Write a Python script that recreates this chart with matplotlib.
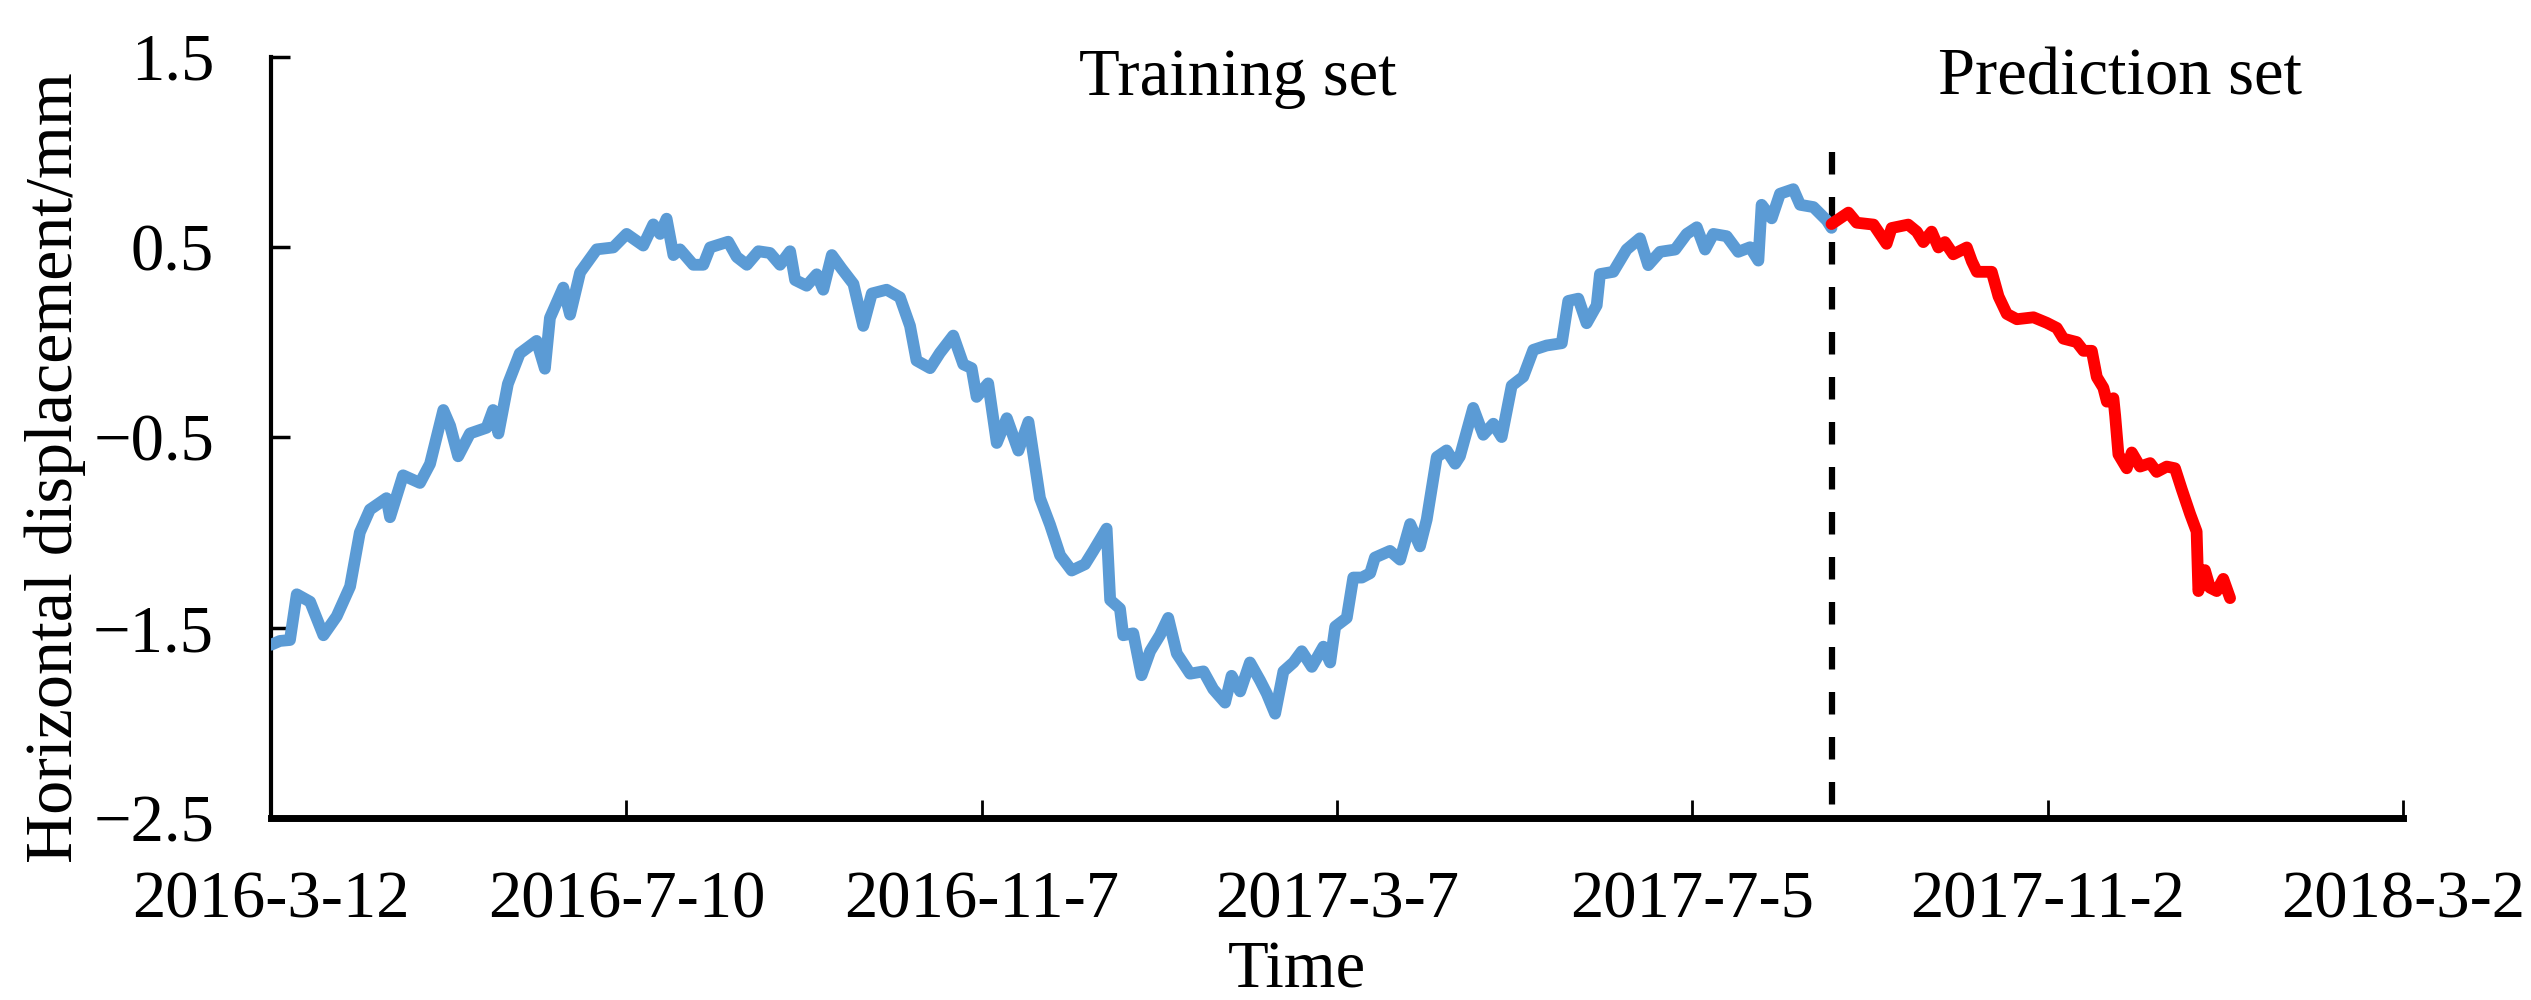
import matplotlib
matplotlib.use("Agg")
import matplotlib.pyplot as plt

plt.rcParams['font.family'] = ['Liberation Serif', 'DejaVu Serif']

# ---------------- data ----------------
# x = days since 2016-3-12
train_days = [0, 3, 6.4, 8.7, 13.2, 17.7, 22.2, 26.7, 30, 33.4, 39, 40.2, 44.6, 50.3, 53.7,
              58.2, 60.5, 63.2, 67.2, 72.8, 75, 76.8, 80, 84, 89.7, 92.5, 94.2, 98.7, 101,
              104.4, 110, 115.6, 120.1, 125.7, 129.1, 131.4, 133.6, 135.9, 138.1, 142.6, 146,
              148.3, 154.4, 157.3, 160.7, 164.6, 168.5, 171.9, 175.3, 177, 180.9, 184.3, 186.5,
              189.4, 192.7, 196.7, 200, 202.9, 207.9, 212.4, 215.8, 218, 222.6, 225.9, 230.4,
              233.8, 236.6, 238.3, 242.2, 245.1, 248.5, 252.4, 255.8, 259.7, 263.1, 266.5,
              270.4, 274.9, 277.7, 282.2, 283.4, 286.7, 287.8, 291.2, 294, 296.9, 300.2, 303,
              305.9, 310.4, 314.9, 318.2, 322.2, 324.4, 327.3, 330.6, 334, 336.3, 339.1, 341.9,
              345.3, 348.1, 351.5, 355.4, 357.7, 359.4, 363.3, 365.5, 368.4, 371.2, 372.8,
              377.9, 381.3, 384.7, 388, 390.3, 393.7, 397, 399.9, 401.5, 406, 409.4, 412.8,
              415.6, 419, 422.9, 426.3, 430.8, 435.9, 438.1, 441.5, 444.3, 447.7, 448.8, 453.3,
              457.8, 462.3, 465.1, 469.1, 474.2, 478.1, 481.5, 484.3, 487.1, 491.6, 495.5,
              499.5, 502.3, 503.4, 506.8, 509.6, 514.1, 516.4, 520.9, 525.4, 527]
train_vals = [-1.59, -1.57, -1.565, -1.325, -1.364, -1.54, -1.44, -1.284, -1.00, -0.88, -0.82,
              -0.92, -0.70, -0.74, -0.64, -0.357, -0.44, -0.60, -0.48, -0.45, -0.357, -0.48,
              -0.22, -0.06, 0.006, -0.14, 0.127, 0.286, 0.144, 0.366, 0.487, 0.497, 0.568,
              0.507, 0.618, 0.568, 0.648, 0.457, 0.487, 0.406, 0.406, 0.497, 0.527, 0.447,
              0.406, 0.477, 0.468, 0.406, 0.477, 0.326, 0.296, 0.356, 0.275, 0.457, 0.386,
              0.305, 0.085, 0.255, 0.275, 0.235, 0.085, -0.097, -0.137, -0.057, 0.034, -0.117,
              -0.137, -0.288, -0.217, -0.53, -0.40, -0.57, -0.419, -0.82, -0.96, -1.12, -1.20,
              -1.167, -1.097, -0.98, -1.355, -1.40, -1.54, -1.53, -1.75, -1.624, -1.54, -1.449,
              -1.636, -1.742, -1.73, -1.823, -1.894, -1.753, -1.835, -1.683, -1.777, -1.847,
              -1.952, -1.73, -1.683, -1.624, -1.706, -1.60, -1.683, -1.495, -1.449, -1.237,
              -1.237, -1.214, -1.132, -1.097, -1.143, -0.956, -1.073, -0.932, -0.604, -0.569,
              -0.639, -0.60, -0.346, -0.487, -0.429, -0.499, -0.229, -0.182, -0.041, -0.018,
              -0.006, 0.216, 0.228, 0.099, 0.193, 0.357, 0.369, 0.486, 0.545, 0.404, 0.474,
              0.486, 0.568, 0.603, 0.486, 0.568, 0.556, 0.474, 0.498, 0.428, 0.721, 0.650,
              0.779, 0.803, 0.721, 0.709, 0.639, 0.60]

pred_days = [527, 532.7, 535.5, 541.2, 545.6, 547.3, 552.9, 555.8, 558, 560.8, 563.1, 565.3,
             568.1, 572.7, 574.4, 576.1, 581.1, 583.4, 586.2, 589.6, 595.2, 599.7, 603.1,
             605.3, 609.8, 612.1, 614.9, 616.6, 618.8, 620, 622.2, 622.8, 623.9, 626.7, 628.4,
             631.2, 634.6, 636.8, 640.2, 643, 645.3, 648.1, 650.3, 650.9, 653.1, 654.8, 657.1,
             659.3, 661.6]
pred_vals = [0.62, 0.68, 0.627, 0.617, 0.516, 0.599, 0.617, 0.58, 0.525, 0.58, 0.497, 0.525,
             0.461, 0.497, 0.424, 0.369, 0.369, 0.24, 0.148, 0.12, 0.13, 0.101, 0.074, 0.018,
             0.0, -0.046, -0.046, -0.184, -0.24, -0.313, -0.295, -0.387, -0.59, -0.663, -0.58,
             -0.654, -0.636, -0.682, -0.654, -0.663, -0.774, -0.903, -0.995, -1.308, -1.198,
             -1.29, -1.308, -1.244, -1.345]

split_day = 527
x_tick_days = [0, 120, 240, 360, 480, 600, 720]
x_tick_labels = ['2016-3-12', '2016-7-10', '2016-11-7', '2017-3-7', '2017-7-5', '2017-11-2', '2018-3-2']
y_ticks = [-2.5, -1.5, -0.5, 0.5, 1.5]
y_tick_labels = ['\u22122.5', '\u22121.5', '\u22120.5', '0.5', '1.5']

# ---------------- figure ----------------
W, H = 2531, 1000
fig = plt.figure(figsize=(W / 100, H / 100), dpi=100)
ax = fig.add_axes([271 / W, 1 - 818 / H, (2403 - 271) / W, (818 - 56.5) / H])

FS = 48
ax.plot(train_days, train_vals, color='#5B9BD5', lw=8.5, solid_joinstyle='round',
        solid_capstyle='round', zorder=3)
ax.plot(pred_days, pred_vals, color='#FF0000', lw=8.5, solid_joinstyle='round',
        solid_capstyle='round', zorder=4)
ax.plot([split_day, split_day], [1.0, -2.5], color='black', lw=4.5,
        linestyle=(0, (3.6, 3.6)), zorder=2)

ax.set_xlim(0, 720)
ax.set_ylim(-2.5, 1.5)
ax.set_xticks(x_tick_days)
ax.set_xticklabels(x_tick_labels, fontsize=FS)
ax.set_yticks(y_ticks)
ax.set_yticklabels(y_tick_labels, fontsize=FS)

for s in ['top', 'right']:
    ax.spines[s].set_visible(False)
ax.spines['left'].set_linewidth(3)
ax.spines['bottom'].set_linewidth(5)
ax.tick_params(axis='y', direction='in', length=14, width=2.5, pad=41)
ax.tick_params(axis='x', direction='in', length=13, width=2, pad=38)

ax.text(326.4, 1.298, 'Training set', fontsize=FS, ha='center', va='baseline')
ax.text(624.4, 1.298, 'Prediction set', fontsize=FS, ha='center', va='baseline')

fig.text(1297 / W, 1 - 988 / H, 'Time', fontsize=FS, ha='center', va='baseline')
fig.text(55 / W, 1 - 468 / H, 'Horizontal displacement/mm', fontsize=49,
         rotation=90, ha='center', va='center')

fig.savefig('out.png', dpi=100, facecolor='white')
